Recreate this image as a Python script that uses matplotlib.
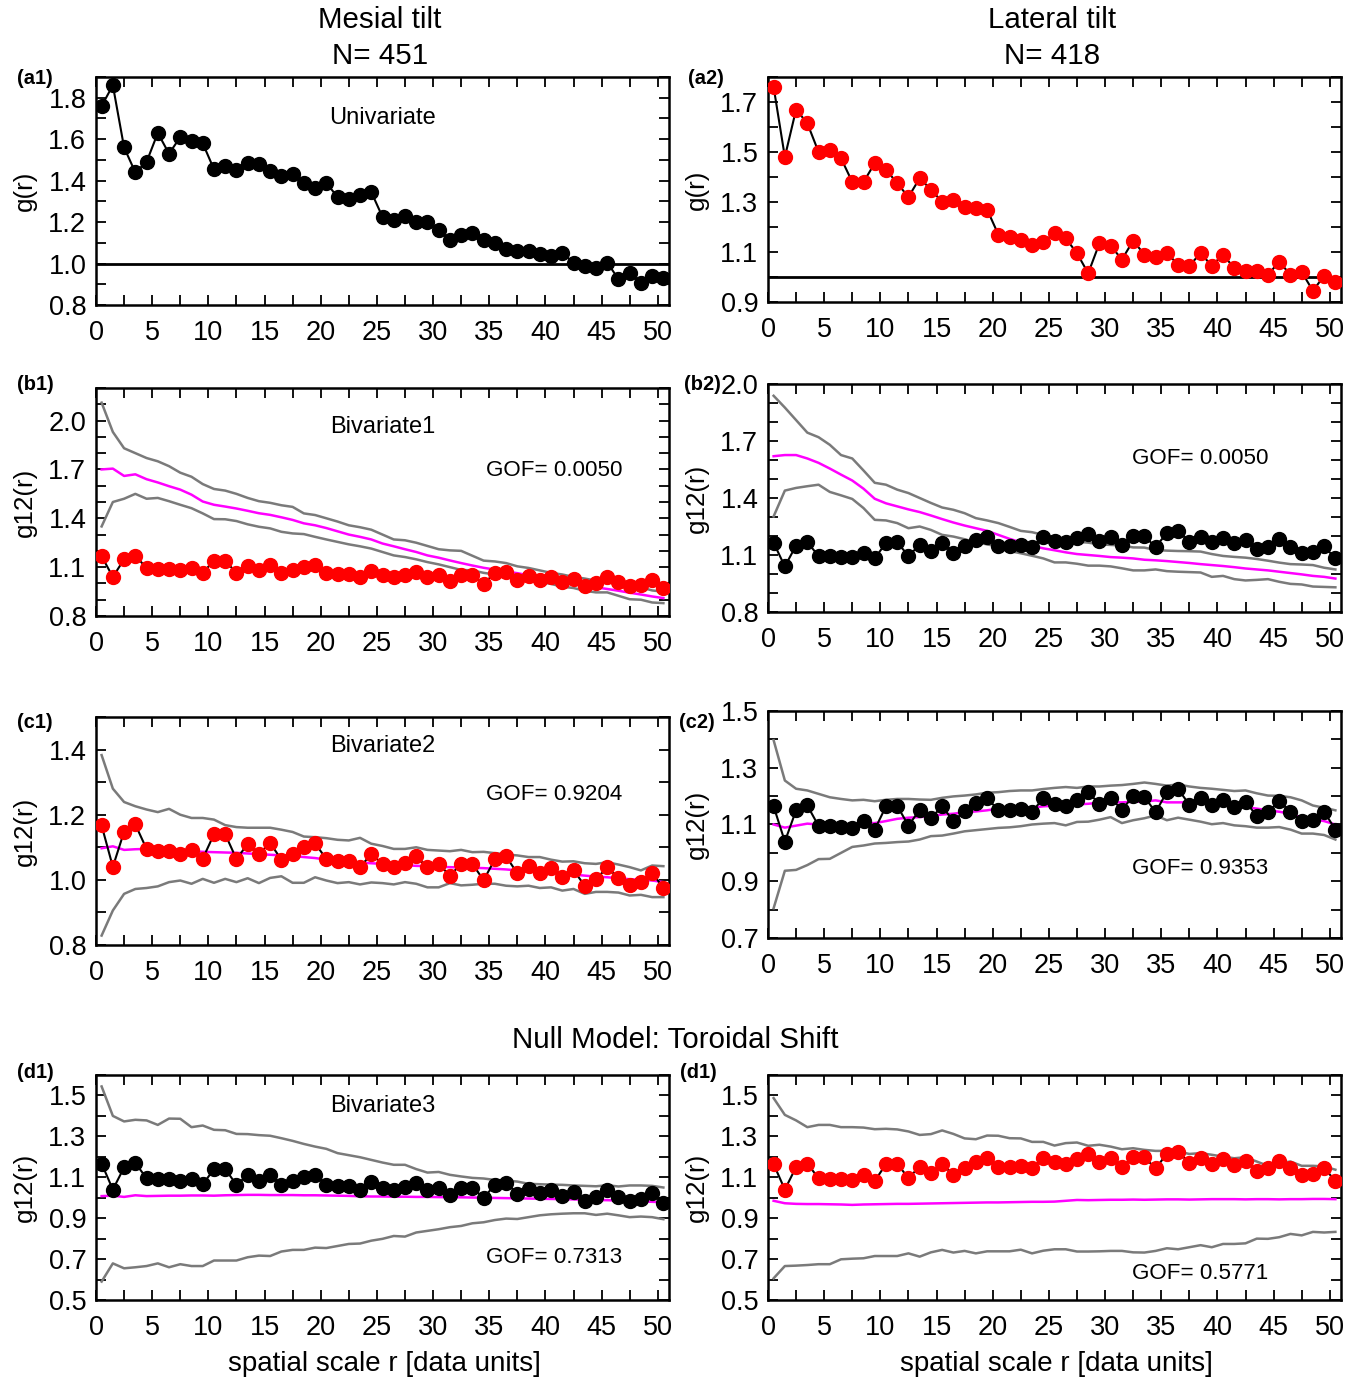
import matplotlib
matplotlib.use("Agg")
import matplotlib.pyplot as plt
from matplotlib import font_manager
from matplotlib.ticker import MultipleLocator, FixedLocator, FormatStrFormatter
import numpy as np

names = {f.name for f in font_manager.fontManager.ttflist}
if "Liberation Sans Narrow" in names:
    FONT = ["Liberation Sans Narrow", "DejaVu Sans"]
    SCALE = 1.0
else:
    FONT = ["Liberation Sans", "DejaVu Sans"]
    SCALE = 0.85
plt.rcParams["font.family"] = FONT

r = np.arange(51) + 0.5

# ---- (a1) univariate, mesial tilt
g_mesial = [1.76, 1.86, 1.56, 1.44, 1.49, 1.63, 1.53, 1.61, 1.59, 1.58,
            1.455, 1.47, 1.45, 1.485, 1.48, 1.445, 1.42, 1.43, 1.39, 1.365,
            1.39, 1.32, 1.31, 1.33, 1.345, 1.225, 1.21, 1.23, 1.20, 1.20,
            1.16, 1.115, 1.14, 1.145, 1.115, 1.10, 1.07, 1.06, 1.06, 1.045,
            1.035, 1.05, 1.005, 0.99, 0.98, 1.005, 0.925, 0.955, 0.905, 0.94, 0.93]

# ---- (a2) univariate, lateral tilt
g_lateral = [1.76, 1.48, 1.67, 1.615, 1.50, 1.51, 1.475, 1.38, 1.38, 1.455,
             1.43, 1.375, 1.32, 1.395, 1.35, 1.30, 1.31, 1.28, 1.275, 1.27,
             1.17, 1.16, 1.15, 1.13, 1.14, 1.175, 1.155, 1.095, 1.015, 1.135,
             1.125, 1.07, 1.145, 1.09, 1.08, 1.095, 1.05, 1.045, 1.095, 1.045,
             1.09, 1.035, 1.025, 1.025, 1.01, 1.06, 1.01, 1.02, 0.945, 1.005, 0.98]

# ---- observed bivariate g12 (left column)
g12_left = [1.167, 1.04, 1.148, 1.17, 1.095, 1.09, 1.09, 1.08, 1.093, 1.065,
            1.14, 1.14, 1.064, 1.11, 1.08, 1.113, 1.062, 1.08, 1.10, 1.112,
            1.064, 1.057, 1.057, 1.04, 1.078, 1.05, 1.04, 1.053, 1.072, 1.038,
            1.05, 1.012, 1.05, 1.049, 0.999, 1.063, 1.072, 1.02, 1.043, 1.021,
            1.037, 1.01, 1.03, 0.982, 1.002, 1.038, 1.006, 0.985, 0.993, 1.022, 0.975]

# ---- observed bivariate g12 (right column)
g12_right = [1.164, 1.04, 1.15, 1.167, 1.095, 1.094, 1.09, 1.088, 1.112, 1.082,
             1.164, 1.166, 1.096, 1.152, 1.122, 1.164, 1.112, 1.147, 1.177, 1.194,
             1.15, 1.15, 1.155, 1.144, 1.193, 1.173, 1.166, 1.187, 1.213, 1.173,
             1.194, 1.152, 1.20, 1.198, 1.143, 1.215, 1.225, 1.17, 1.194, 1.167,
             1.188, 1.161, 1.181, 1.13, 1.143, 1.182, 1.144, 1.112, 1.117, 1.145, 1.082]

# ---- (b1) envelopes
b1_hi = [2.11, 1.93, 1.83, 1.80, 1.77, 1.75, 1.72, 1.68, 1.655, 1.61,
         1.58, 1.57, 1.55, 1.525, 1.505, 1.495, 1.48, 1.47, 1.43, 1.42,
         1.40, 1.38, 1.357, 1.345, 1.33, 1.30, 1.27, 1.265, 1.25, 1.23,
         1.21, 1.203, 1.20, 1.17, 1.14, 1.135, 1.125, 1.105, 1.095, 1.08,
         1.065, 1.055, 1.04, 1.03, 1.017, 1.013, 0.997, 0.986, 0.976, 0.957, 0.949]
b1_lo = [1.35, 1.50, 1.52, 1.55, 1.52, 1.525, 1.505, 1.483, 1.462, 1.43,
         1.395, 1.394, 1.383, 1.363, 1.348, 1.338, 1.317, 1.307, 1.303, 1.286,
         1.27, 1.255, 1.24, 1.228, 1.214, 1.193, 1.172, 1.162, 1.148, 1.131,
         1.117, 1.10, 1.083, 1.08, 1.065, 1.055, 1.042, 1.028, 1.017, 1.01,
         0.997, 0.98, 0.972, 0.955, 0.945, 0.945, 0.924, 0.903, 0.90, 0.883, 0.879]
b1_mid = [1.70, 1.705, 1.66, 1.67, 1.64, 1.62, 1.597, 1.576, 1.545, 1.503,
          1.483, 1.472, 1.46, 1.446, 1.431, 1.421, 1.406, 1.39, 1.369, 1.357,
          1.34, 1.32, 1.30, 1.286, 1.27, 1.245, 1.228, 1.21, 1.193, 1.172,
          1.158, 1.141, 1.125, 1.11, 1.096, 1.085, 1.073, 1.063, 1.05, 1.04,
          1.028, 1.015, 1.003, 0.99, 0.976, 0.966, 0.955, 0.943, 0.932, 0.92, 0.91]

# ---- (b2) envelopes
b2_hi = [1.938, 1.876, 1.81, 1.744, 1.72, 1.68, 1.626, 1.608, 1.545, 1.48,
         1.47, 1.444, 1.426, 1.40, 1.374, 1.35, 1.338, 1.32, 1.294, 1.282,
         1.268, 1.248, 1.227, 1.22, 1.206, 1.193, 1.18, 1.17, 1.165, 1.156,
         1.153, 1.15, 1.14, 1.139, 1.126, 1.123, 1.121, 1.12, 1.118, 1.105,
         1.095, 1.09, 1.086, 1.079, 1.07, 1.06, 1.052, 1.05, 1.047, 1.033, 1.024]
b2_lo = [1.303, 1.439, 1.453, 1.462, 1.47, 1.432, 1.414, 1.395, 1.347, 1.285,
         1.282, 1.268, 1.241, 1.25, 1.232, 1.206, 1.197, 1.183, 1.167, 1.156,
         1.144, 1.121, 1.109, 1.096, 1.082, 1.061, 1.061, 1.054, 1.044, 1.044,
         1.04, 1.03, 1.019, 1.019, 1.024, 1.015, 1.012, 1.01, 1.008, 0.985,
         0.99, 0.973, 0.966, 0.969, 0.973, 0.959, 0.948, 0.945, 0.934, 0.932, 0.93]
b2_mid = [1.62, 1.626, 1.626, 1.608, 1.585, 1.555, 1.523, 1.492, 1.449, 1.396,
          1.372, 1.356, 1.34, 1.326, 1.308, 1.289, 1.271, 1.255, 1.241, 1.227,
          1.206, 1.185, 1.167, 1.149, 1.135, 1.125, 1.114, 1.105, 1.10, 1.095,
          1.089, 1.086, 1.082, 1.075, 1.072, 1.068, 1.063, 1.058, 1.052, 1.047,
          1.042, 1.036, 1.029, 1.024, 1.019, 1.012, 1.005, 0.998, 0.99, 0.985, 0.976]

# ---- (c1) envelopes
c1_hi = [1.383, 1.28, 1.239, 1.226, 1.216, 1.208, 1.218, 1.20, 1.19, 1.19,
         1.185, 1.168, 1.162, 1.16, 1.16, 1.16, 1.154, 1.147, 1.133, 1.131,
         1.128, 1.123, 1.121, 1.129, 1.111, 1.104, 1.095, 1.095, 1.10, 1.092,
         1.09, 1.088, 1.092, 1.085, 1.086, 1.082, 1.078, 1.075, 1.07, 1.07,
         1.062, 1.056, 1.057, 1.051, 1.049, 1.054, 1.047, 1.039, 1.029, 1.044, 1.042]
c1_lo = [0.829, 0.906, 0.957, 0.972, 0.975, 0.98, 0.993, 0.998, 0.988, 1.003,
         0.991, 1.003, 0.993, 1.005, 0.99, 1.006, 1.011, 0.991, 0.991, 1.008,
         0.998, 0.99, 0.993, 0.986, 0.992, 0.99, 0.986, 0.993, 0.988, 0.977,
         0.977, 0.99, 0.983, 0.985, 0.988, 0.988, 0.982, 0.98, 0.982, 0.975,
         0.977, 0.967, 0.972, 0.957, 0.963, 0.963, 0.961, 0.952, 0.954, 0.947, 0.947]
c1_mid = [1.097, 1.103, 1.092, 1.094, 1.095, 1.093, 1.09, 1.088, 1.088, 1.086,
          1.085, 1.084, 1.083, 1.081, 1.079, 1.077, 1.075, 1.073, 1.07, 1.067,
          1.062, 1.058, 1.056, 1.053, 1.051, 1.049, 1.047, 1.045, 1.043, 1.042,
          1.04, 1.039, 1.038, 1.037, 1.036, 1.034, 1.032, 1.029, 1.027, 1.025,
          1.023, 1.021, 1.016, 1.013, 1.01, 1.008, 1.005, 1.002, 1.0, 0.998, 0.993]

# ---- (c2) envelopes
c2_hi = [1.397, 1.255, 1.226, 1.22, 1.208, 1.196, 1.19, 1.185, 1.187, 1.182,
         1.187, 1.19, 1.19, 1.188, 1.187, 1.194, 1.199, 1.202, 1.206, 1.212,
         1.214, 1.218, 1.22, 1.22, 1.225, 1.229, 1.232, 1.229, 1.234, 1.234,
         1.237, 1.239, 1.243, 1.248, 1.243, 1.237, 1.241, 1.234, 1.229, 1.226,
         1.222, 1.218, 1.22, 1.21, 1.202, 1.201, 1.196, 1.185, 1.167, 1.159, 1.15]
c2_lo = [0.805, 0.937, 0.94, 0.957, 0.978, 0.979, 1.0, 1.021, 1.026, 1.033,
         1.035, 1.038, 1.04, 1.047, 1.059, 1.061, 1.068, 1.076, 1.08, 1.084,
         1.088, 1.09, 1.094, 1.10, 1.103, 1.105, 1.097, 1.109, 1.11, 1.117,
         1.126, 1.105, 1.115, 1.122, 1.132, 1.115, 1.124, 1.117, 1.11, 1.101,
         1.105, 1.097, 1.094, 1.089, 1.089, 1.091, 1.082, 1.068, 1.068, 1.063, 1.047]
c2_mid = [1.10, 1.089, 1.096, 1.103, 1.10, 1.10, 1.097, 1.10, 1.105, 1.105,
          1.112, 1.12, 1.124, 1.126, 1.13, 1.135, 1.138, 1.143, 1.146, 1.15,
          1.156, 1.157, 1.158, 1.159, 1.164, 1.166, 1.168, 1.171, 1.173, 1.177,
          1.178, 1.178, 1.18, 1.181, 1.185, 1.178, 1.178, 1.178, 1.177, 1.173,
          1.168, 1.165, 1.161, 1.156, 1.15, 1.145, 1.138, 1.124, 1.119, 1.112, 1.10]

# ---- (d1) envelopes (toroidal shift)
d1_hi = [1.544, 1.40, 1.373, 1.381, 1.378, 1.356, 1.387, 1.386, 1.345, 1.353,
         1.332, 1.33, 1.312, 1.311, 1.306, 1.303, 1.291, 1.278, 1.263, 1.25,
         1.239, 1.218, 1.208, 1.198, 1.185, 1.172, 1.161, 1.161, 1.14, 1.123,
         1.126, 1.112, 1.104, 1.097, 1.094, 1.087, 1.084, 1.079, 1.068, 1.066,
         1.064, 1.063, 1.06, 1.058, 1.056, 1.061, 1.055, 1.06, 1.06, 1.058, 1.05]
d1_lo = [0.59, 0.679, 0.655, 0.66, 0.666, 0.679, 0.66, 0.675, 0.666, 0.666,
         0.693, 0.693, 0.693, 0.709, 0.717, 0.715, 0.737, 0.745, 0.745, 0.756,
         0.754, 0.764, 0.774, 0.776, 0.79, 0.799, 0.813, 0.81, 0.83, 0.838,
         0.846, 0.856, 0.862, 0.875, 0.88, 0.891, 0.898, 0.896, 0.905, 0.914,
         0.919, 0.922, 0.924, 0.924, 0.916, 0.922, 0.914, 0.905, 0.908, 0.905, 0.895]
d1_mid = [1.008, 1.010, 1.004, 1.012, 1.008, 1.009, 1.010, 1.010, 1.011, 1.011,
          1.010, 1.012, 1.013, 1.014, 1.014, 1.013, 1.013, 1.013, 1.012, 1.012,
          1.011, 1.010, 1.009, 1.007, 1.006, 1.006, 1.005, 1.005, 1.004, 1.004,
          1.003, 1.002, 1.002, 1.001, 1.000, 0.999, 0.998, 0.997, 0.996, 0.995,
          0.994, 0.993, 0.992, 0.990, 0.989, 0.988, 0.986, 0.984, 0.982, 0.980, 0.978]

# ---- (d2) envelopes (toroidal shift)
d2_hi = [1.487, 1.405, 1.378, 1.345, 1.356, 1.356, 1.345, 1.345, 1.343, 1.335,
         1.337, 1.334, 1.324, 1.307, 1.311, 1.329, 1.312, 1.29, 1.286, 1.304,
         1.303, 1.291, 1.29, 1.273, 1.273, 1.255, 1.267, 1.27, 1.254, 1.259,
         1.25, 1.237, 1.242, 1.234, 1.229, 1.229, 1.226, 1.214, 1.218, 1.21,
         1.201, 1.193, 1.198, 1.177, 1.156, 1.169, 1.177, 1.156, 1.156, 1.153, 1.137]
d2_lo = [0.606, 0.666, 0.668, 0.671, 0.675, 0.675, 0.699, 0.702, 0.704, 0.715,
         0.715, 0.715, 0.728, 0.712, 0.733, 0.745, 0.732, 0.74, 0.728, 0.738,
         0.738, 0.738, 0.746, 0.728, 0.741, 0.748, 0.748, 0.737, 0.737, 0.738,
         0.74, 0.74, 0.733, 0.732, 0.74, 0.753, 0.748, 0.758, 0.768, 0.758,
         0.774, 0.774, 0.777, 0.80, 0.799, 0.807, 0.823, 0.816, 0.833, 0.83, 0.833]
d2_mid = [0.985, 0.973, 0.970, 0.969, 0.969, 0.968, 0.967, 0.965, 0.967, 0.968,
          0.969, 0.970, 0.970, 0.971, 0.972, 0.973, 0.974, 0.975, 0.976, 0.977,
          0.977, 0.978, 0.979, 0.980, 0.980, 0.981, 0.985, 0.989, 0.988, 0.989,
          0.990, 0.990, 0.991, 0.990, 0.991, 0.992, 0.992, 0.991, 0.992, 0.993,
          0.993, 0.993, 0.992, 0.993, 0.993, 0.992, 0.993, 0.993, 0.994, 0.994, 0.993]

# ---- y tick labels per panel
yt_a1 = [0.8, 1.0, 1.2, 1.4, 1.6, 1.8]
yt_a2 = [0.9, 1.1, 1.3, 1.5, 1.7]
yt_b = [0.8, 1.1, 1.4, 1.7, 2.0]
yt_c1 = [0.8, 1.0, 1.2, 1.4]
yt_c2 = [0.7, 0.9, 1.1, 1.3, 1.5]
yt_d = [0.5, 0.7, 0.9, 1.1, 1.3, 1.5]

GOF = {"b1": "0.0050", "b2": "0.0050", "c1": "0.9204", "c2": "0.9353",
       "d1": "0.7313", "d2": "0.5771"}

W, H = 1359, 1382
fig = plt.figure(figsize=(W / 100, H / 100), dpi=100)


def ax_at(l, t, r_, b):
    return fig.add_axes([l / W, 1 - b / H, (r_ - l) / W, (b - t) / H])


TICK = 23 * SCALE
LAB = 22 * SCALE
TTL = 25 * SCALE
ANN = 20 * SCALE
ANN2 = 19 * SCALE
PLAB = 17 * SCALE
GRAY = "#7a7a7a"
MAG = "#ff00ff"


def style(ax, ylim, yticks, ylabel):
    ax.set_xlim(0, 51)
    ax.set_ylim(*ylim)
    ax.xaxis.set_major_locator(MultipleLocator(5))
    ax.xaxis.set_minor_locator(MultipleLocator(2.5))
    ax.yaxis.set_major_locator(FixedLocator(yticks))
    ax.yaxis.set_minor_locator(MultipleLocator(0.1))
    ax.yaxis.set_major_formatter(FormatStrFormatter("%.1f"))
    ax.tick_params(which="both", direction="in", top=True, right=True,
                   width=1.3, labelsize=TICK)
    ax.tick_params(axis="x", which="major", pad=11)
    ax.tick_params(axis="y", which="major", pad=7)
    ax.tick_params(which="major", length=7)
    ax.tick_params(which="minor", length=7)
    for s in ax.spines.values():
        s.set_linewidth(1.8)
    ax.set_ylabel(ylabel, fontsize=LAB, labelpad=8)


def points(ax, y, color):
    ax.plot(r, y, "-", color="black", lw=1.5, zorder=4)
    ax.plot(r, y, "o", color=color, mec=color, ms=10, zorder=5)


def envelope(ax, hi, lo, mid):
    ax.plot(r, hi, color=GRAY, lw=1.8, zorder=2)
    ax.plot(r, lo, color=GRAY, lw=1.8, zorder=2)
    ax.plot(r, mid, color=MAG, lw=1.8, zorder=3)


L1, R1 = 96, 669
L2, R2 = 768, 1341

# row a
a1 = ax_at(L1, 77, R1, 305)
style(a1, (0.8, 1.9), yt_a1, "g(r)")
a1.axhline(1.0, color="black", lw=2, zorder=1)
points(a1, g_mesial, "black")
a1.text(0.5, 0.82, "Univariate", transform=a1.transAxes, ha="center", va="center", fontsize=ANN)

a2 = ax_at(L2, 77, R2, 302)
style(a2, (0.9, 1.8), yt_a2, "g(r)")
a2.axhline(1.0, color="black", lw=2, zorder=1)
points(a2, g_lateral, "red")

# row b
b1 = ax_at(L1, 388, R1, 616)
style(b1, (0.8, 2.2), yt_b, "g12(r)")
envelope(b1, b1_hi, b1_lo, b1_mid)
points(b1, g12_left, "red")
b1.text(0.5, 0.83, "Bivariate1", transform=b1.transAxes, ha="center", va="center", fontsize=ANN)
b1.text(0.80, 0.636, "GOF= " + GOF["b1"], transform=b1.transAxes, ha="center", va="center", fontsize=ANN2)

b2 = ax_at(L2, 384, R2, 612)
style(b2, (0.8, 2.0), yt_b, "g12(r)")
envelope(b2, b2_hi, b2_lo, b2_mid)
points(b2, g12_right, "black")
b2.text(0.754, 0.675, "GOF= " + GOF["b2"], transform=b2.transAxes, ha="center", va="center", fontsize=ANN2)

# row c
c1 = ax_at(L1, 717, R1, 945)
style(c1, (0.8, 1.5), yt_c1, "g12(r)")
envelope(c1, c1_hi, c1_lo, c1_mid)
points(c1, g12_left, "red")
c1.text(0.5, 0.873, "Bivariate2", transform=c1.transAxes, ha="center", va="center", fontsize=ANN)
c1.text(0.80, 0.658, "GOF= " + GOF["c1"], transform=c1.transAxes, ha="center", va="center", fontsize=ANN2)

c2 = ax_at(L2, 711, R2, 938)
style(c2, (0.7, 1.5), yt_c2, "g12(r)")
envelope(c2, c2_hi, c2_lo, c2_mid)
points(c2, g12_right, "black")
c2.text(0.754, 0.308, "GOF= " + GOF["c2"], transform=c2.transAxes, ha="center", va="center", fontsize=ANN2)

# row d
d1 = ax_at(L1, 1075, R1, 1300)
style(d1, (0.5, 1.6), yt_d, "g12(r)")
envelope(d1, d1_hi, d1_lo, d1_mid)
points(d1, g12_left, "black")
d1.text(0.5, 0.862, "Bivariate3", transform=d1.transAxes, ha="center", va="center", fontsize=ANN)
d1.text(0.80, 0.187, "GOF= " + GOF["d1"], transform=d1.transAxes, ha="center", va="center", fontsize=ANN2)

d2 = ax_at(L2, 1075, R2, 1300)
style(d2, (0.5, 1.6), yt_d, "g12(r)")
envelope(d2, d2_hi, d2_lo, d2_mid)
points(d2, g12_right, "red")
d2.text(0.754, 0.116, "GOF= " + GOF["d2"], transform=d2.transAxes, ha="center", va="center", fontsize=ANN2)

# x labels
XL = "spatial scale r [data units]"
fig.text(384 / W, 1 - 1364 / H, XL, ha="center", va="center", fontsize=TTL * 0.94)
fig.text(1056 / W, 1 - 1364 / H, XL, ha="center", va="center", fontsize=TTL * 0.94)

# titles
fig.text(380 / W, 1 - 20 / H, "Mesial tilt", ha="center", va="center", fontsize=TTL)
fig.text(380 / W, 1 - 56 / H, "N= 451", ha="center", va="center", fontsize=TTL)
fig.text(1052 / W, 1 - 20 / H, "Lateral tilt", ha="center", va="center", fontsize=TTL)
fig.text(1052 / W, 1 - 56 / H, "N= 418", ha="center", va="center", fontsize=TTL)
fig.text(675 / W, 1 - 1040 / H, "Null Model: Toroidal Shift", ha="center", va="center", fontsize=TTL)

# panel labels
for txt, x, y in [("(a1)", 35, 78), ("(a2)", 706, 78), ("(b1)", 35, 384),
                  ("(b2)", 702, 384), ("(c1)", 35, 722), ("(c2)", 697, 722),
                  ("(d1)", 35, 1072), ("(d1)", 698, 1072)]:
    fig.text(x / W, 1 - y / H, txt, ha="center", va="center", fontsize=PLAB, fontweight="bold")

fig.savefig("out.png", dpi=100)
